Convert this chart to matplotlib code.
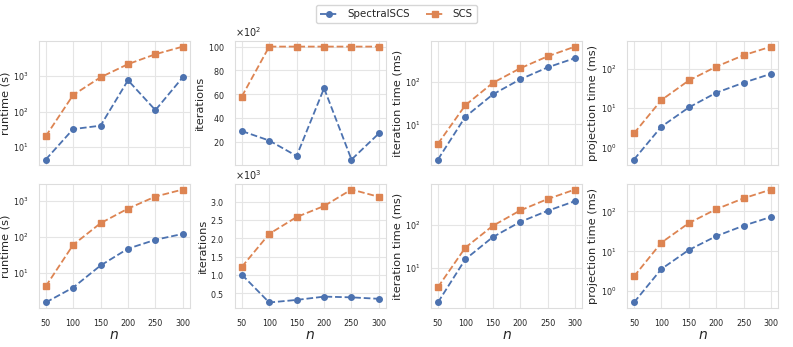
import matplotlib
matplotlib.use("Agg")
import matplotlib.pyplot as plt
import seaborn as sns
from matplotlib.ticker import ScalarFormatter

sns.set_theme(style="whitegrid")
plt.rcParams['font.family'] = ['DejaVu Sans']

n = [50, 100, 150, 200, 250, 300]
labels = ["SpectralSCS", "SCS"]

# top row
rt1_spec = [4.4, 32, 40, 770, 110, 940]
rt1_scs = [20, 295, 935, 2200, 4200, 6900]
it1_spec = [2900, 2100, 800, 6500, 500, 2700]
it1_scs = [5800, 10000, 10000, 10000, 10000, 10000]
itt1_spec = [1.5, 15, 50, 113, 215, 355]
itt1_scs = [3.5, 28, 93, 205, 390, 660]
pt1_spec = [0.5, 3.4, 10.4, 24.5, 44, 74]
pt1_scs = [2.3, 16, 50, 112, 218, 360]

# bottom row
rt2_spec = [1.5, 3.9, 16, 47, 83, 121]
rt2_scs = [4.2, 60, 240, 610, 1320, 2070]
it2_spec = [1010, 250, 320, 410, 390, 350]
it2_scs = [1220, 2120, 2580, 2880, 3330, 3130]
itt2_spec = [1.55, 15.6, 51, 115, 208, 350]
itt2_scs = [3.5, 29, 93, 212, 390, 650]
pt2_spec = [0.52, 3.6, 10.8, 24, 44, 73]
pt2_scs = [2.34, 16.5, 51, 114, 214, 355]

rows = [
    [(rt1_spec, rt1_scs, "runtime (s)", "log", None),
     (it1_spec, it1_scs, "iterations", "linear", 2),
     (itt1_spec, itt1_scs, "iteration time (ms)", "log", None),
     (pt1_spec, pt1_scs, "projection time (ms)", "log", None)],
    [(rt2_spec, rt2_scs, "runtime (s)", "log", None),
     (it2_spec, it2_scs, "iterations", "linear", 3),
     (itt2_spec, itt2_scs, "iteration time (ms)", "log", None),
     (pt2_spec, pt2_scs, "projection time (ms)", "log", None)],
]

colors = ["#4C72B0", "#DD8452"]

fig, axes = plt.subplots(2, 4, figsize=(7.93, 3.47), dpi=100, sharex=True)
fig.subplots_adjust(left=0.049, right=0.981, top=0.882, bottom=0.112,
                    hspace=0.15, wspace=0.30)

handles = []
for r, row in enumerate(rows):
    for c, (spec, scs, ylab, scale, power) in enumerate(row):
        ax = axes[r, c]
        h1, = ax.plot(n, spec, linestyle="--", marker="o", color=colors[0],
                      markersize=4, linewidth=1.3, label=labels[0])
        h2, = ax.plot(n, scs, linestyle="--", marker="s", color=colors[1],
                      markersize=4, linewidth=1.3, label=labels[1])
        if not handles:
            handles = [h1, h2]
        ax.set_yscale(scale)
        if scale == "log":
            ax.minorticks_off()
        else:
            fmt = ScalarFormatter(useMathText=True)
            fmt.set_powerlimits((power, power))
            ax.yaxis.set_major_formatter(fmt)
            ax.yaxis.get_offset_text().set_fontsize(7)
        ax.set_ylabel(ylab, fontsize=8.2, labelpad=2)
        ax.tick_params(axis="both", labelsize=5.8, pad=1.5)
        ax.set_xticks(n)
        if r == 1:
            ax.set_xlabel("$n$", fontsize=10, labelpad=0)
        for s in ax.spines.values():
            s.set_color("#dddddd")
            s.set_linewidth(0.8)
        ax.grid(True, color="#e5e5e5", linewidth=0.8)

fig.legend(handles, labels, loc="upper center", ncol=2, fontsize=7.4,
           bbox_to_anchor=(0.5, 1.0), frameon=True, handlelength=1.8,
           columnspacing=1.6, handletextpad=0.8)

fig.savefig("out.png", dpi=100)
